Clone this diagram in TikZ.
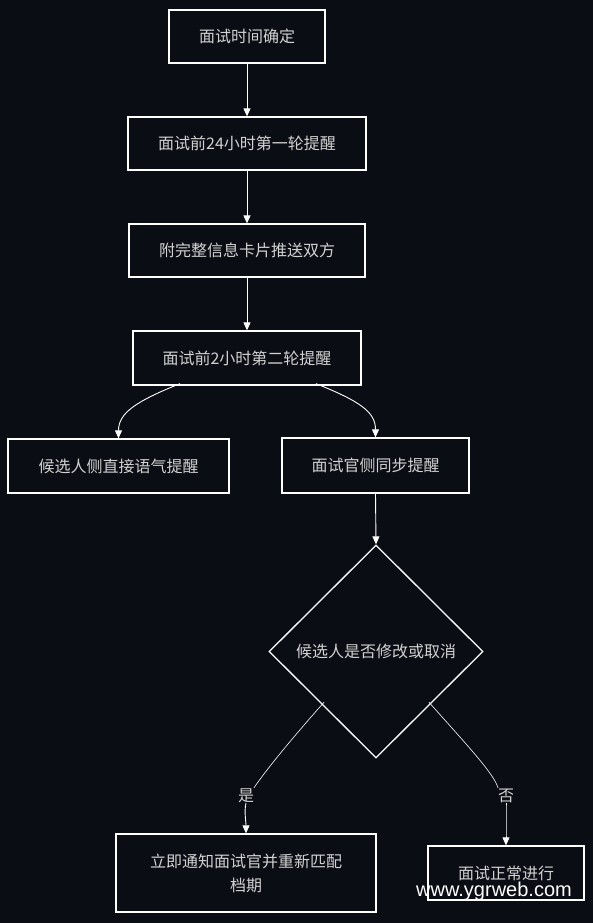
\documentclass[tikz,border=0pt]{standalone}
\usepackage{fontspec}
\newfontfamily\cjk{Noto Sans CJK SC}
\newfontfamily\wmfont{Liberation Sans}
\usetikzlibrary{shapes.geometric,arrows.meta}
\definecolor{bg}{HTML}{0B0D14}
\definecolor{txt}{HTML}{D2D2D2}
\begin{document}
\begin{tikzpicture}[x=1pt,y=-1pt,
  box/.style={draw=white, line width=1.3pt, fill=bg, text=txt,
    font=\cjk\fontsize{16}{24}\selectfont, inner sep=0pt, align=center},
  dia/.style={box, diamond, minimum width=214pt, minimum height=213pt},
  arr/.style={draw=white, line width=0.9pt, -{Triangle[width=7pt,length=8pt]}},
  thin line/.style={draw=white, line width=0.6pt},
  lbl/.style={text=txt, font=\cjk\fontsize{16}{20}\selectfont, inner sep=1pt}]
\fill[bg] (0,0) rectangle (593,923);
\useasboundingbox (0,0) rectangle (593,923);

\node[box, minimum width=156pt, minimum height=53pt] (n1) at (247,36.5) {面试时间确定};
\node[box, minimum width=238pt, minimum height=53pt] (n2) at (247,143.5) {面试前24小时第一轮提醒};
\node[box, minimum width=236pt, minimum height=53pt] (n3) at (247,250.5) {附完整信息卡片推送双方};
\node[box, minimum width=228pt, minimum height=54pt] (n4) at (247,358) {面试前2小时第二轮提醒};
\node[box, minimum width=221pt, minimum height=54pt] (n5) at (118.5,466) {候选人侧直接语气提醒};
\node[box, minimum width=187pt, minimum height=55pt] (n6) at (375.5,465.5) {面试官侧同步提醒};
\node[dia] (d) at (376,651.5) {候选人是否修改或取消};
\node[box, minimum width=260pt, minimum height=78pt] (n7) at (246,873) {立即通知面试官并重新匹配\\档期};
\node[box, minimum width=156pt, minimum height=54pt] (n8) at (506,873) {面试正常进行};
\node[lbl] (ly) at (246,796) {是};
\node[lbl] (ln) at (506,796) {否};

\draw[arr] (n1.south) -- (n2.north);
\draw[arr] (n2.south) -- (n3.north);
\draw[arr] (n3.south) -- (n4.north);
\draw[arr] ([xshift=-67pt,yshift=2pt]n4.south) .. controls +(-45,18) and +(0,-25) .. (n5.north);
\draw[arr] ([xshift=69pt,yshift=2pt]n4.south) .. controls +(45,18) and +(0,-25) .. (n6.north);
\draw[arr] (n6.south) -- (d.north);
\draw[thin line] ([shift={(2pt,3pt)}]d.south west) .. controls +(-40,45) and +(8,-12) .. ([xshift=8pt]ly.north);
\draw[arr] ([yshift=1pt]ly.south) .. controls +(-2,8) and +(0,-12) .. (n7.north);
\draw[thin line] ([shift={(-1pt,3pt)}]d.south east) .. controls +(40,45) and +(-4,-14) .. ([xshift=-8pt]ln.north);
\draw[arr] ([yshift=1pt]ln.south) .. controls +(0,10) and +(0,-12) .. (n8.north);

\node[text=white, font=\wmfont\fontsize{20}{24}\selectfont, inner sep=0pt] (wm) at (494,891) {www.ygrweb.com};
\end{tikzpicture}
\end{document}
